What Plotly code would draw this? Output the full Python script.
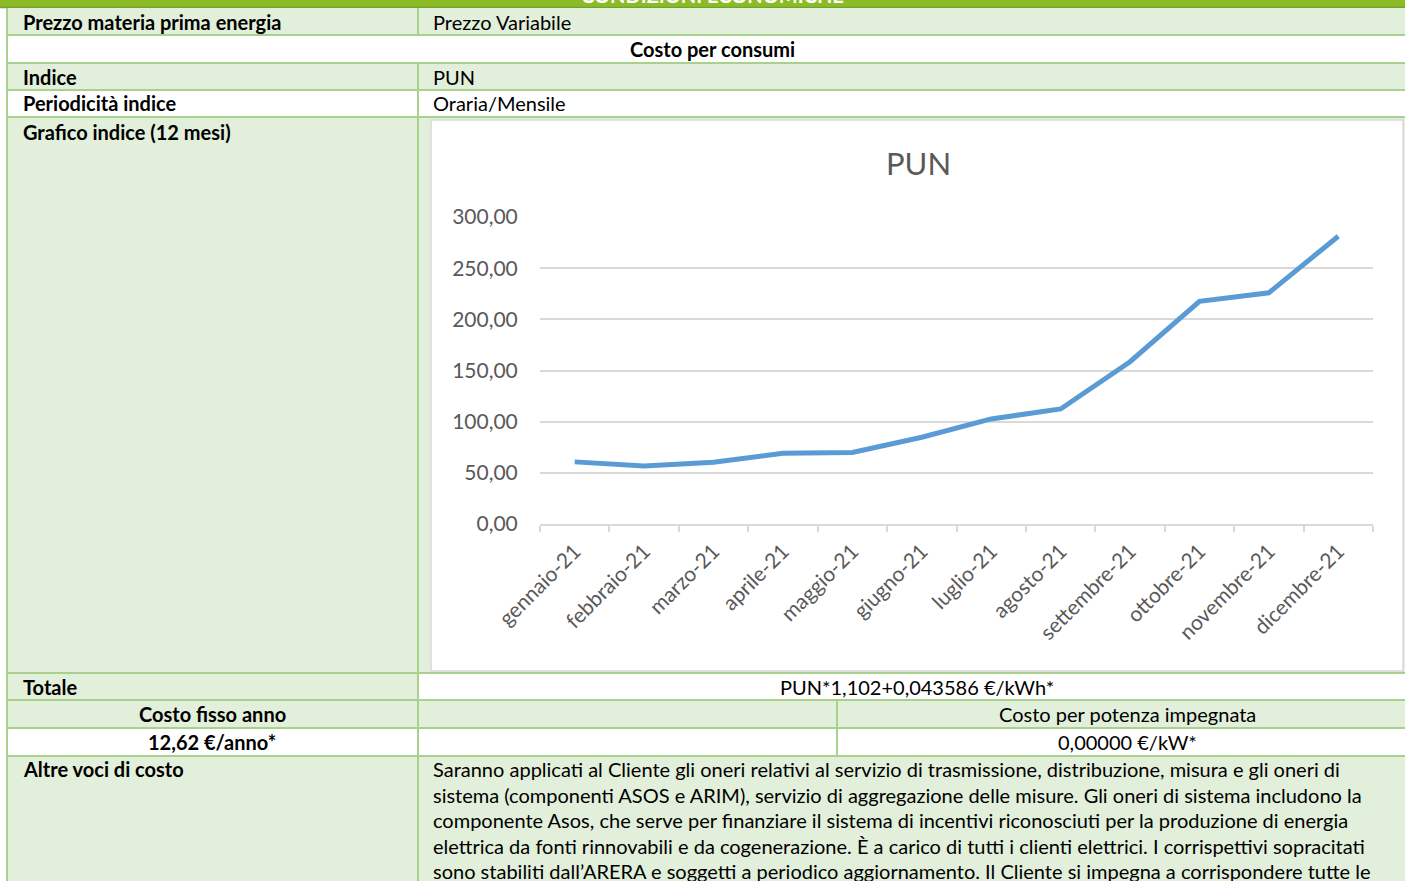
import plotly.graph_objects as go

W, H = 1405, 881

# ---- data ----
months = ["gennaio-21", "febbraio-21", "marzo-21", "aprile-21", "maggio-21", "giugno-21",
          "luglio-21", "agosto-21", "settembre-21", "ottobre-21", "novembre-21", "dicembre-21"]
pun_values = [60.71, 56.57, 60.42, 69.02, 69.91, 84.80, 102.65, 112.40, 158.59, 217.63, 225.95, 281.24]
y_ticks = [0, 50, 100, 150, 200, 250, 300]

header_title = "CONDIZIONI ECONOMICHE"
altre_voci_lines = [
    "Saranno applicati al Cliente gli oneri relativi al servizio di trasmissione, distribuzione, misura e gli oneri di",
    "sistema (componenti ASOS e ARIM), servizio di aggregazione delle misure. Gli oneri di sistema includono la",
    "componente Asos, che serve per finanziare il sistema di incentivi riconosciuti per la produzione di energia",
    "elettrica da fonti rinnovabili e da cogenerazione. È a carico di tutti i clienti elettrici. I corrispettivi sopracitati",
    "sono stabiliti dall’ARERA e soggetti a periodico aggiornamento. Il Cliente si impegna a corrispondere tutte le",
]

# ---- style ----
FONT = "Lato"
FS = 20
GREEN_BAR = "#8DBB25"
GREEN_BAR_DARK = "#6FA52E"
LIGHT = "#E2EFDA"
BORDER = "#A9D18E"
WHITE = "#FFFFFF"
GRID = "#D9D9D9"
AXTXT = "#595959"
LINE = "#5B9BD5"


def px(x):
    return x / W


def py(y):
    return 1 - y / H


shapes = []
annotations = []


def rect(x0, y0, x1, y1, fill, line_color=None, lw=0):
    shapes.append(dict(type="rect", xref="paper", yref="paper", x0=px(x0), x1=px(x1),
                       y0=py(y1), y1=py(y0), fillcolor=fill,
                       line=dict(color=line_color or fill, width=lw), layer="below"))


def hline(y, x0, x1, color=BORDER, w=2):
    shapes.append(dict(type="line", xref="paper", yref="paper", x0=px(x0), x1=px(x1),
                       y0=py(y), y1=py(y), line=dict(color=color, width=w), layer="below"))


def vline(x, y0, y1, color=BORDER, w=2):
    shapes.append(dict(type="line", xref="paper", yref="paper", x0=px(x), x1=px(x),
                       y0=py(y0), y1=py(y1), line=dict(color=color, width=w), layer="below"))


def text(x, y, s, bold=False, anchor="left", size=FS, color="black", yanchor="middle"):
    annotations.append(dict(xref="paper", yref="paper", x=px(x), y=py(y), text=("<b>%s</b>" % s) if bold else s,
                            showarrow=False, xanchor=anchor, yanchor=yanchor,
                            font=dict(family=FONT, size=size, color=color)))


L, C, M, R = 7, 418, 837, W
rows = [8, 35, 63, 90, 117, 673, 700, 728, 756, H]
XL, XR = 21, 431

# header bar
rect(0, 0, W, 8, GREEN_BAR)
hline(7.5, 0, W, GREEN_BAR_DARK, 1.5)

# cell backgrounds
rect(L, 8, R, 35, LIGHT)
rect(L, 35, R, 63, WHITE)
rect(L, 63, R, 90, LIGHT)
rect(L, 90, R, 117, WHITE)
rect(L, 117, R, 673, LIGHT)
rect(L, 673, C, 700, LIGHT)
rect(C, 673, R, 700, WHITE)
rect(L, 700, R, 728, LIGHT)
rect(L, 728, R, 756, WHITE)
rect(L, 756, R, H, LIGHT)

# chart area
rect(431, 120, 1403, 671, WHITE, GRID, 1.5)

# borders
for y in rows[1:-1]:
    hline(y, L, R)
vline(L, 8, H)
vline(C, 8, 35)
vline(C, 63, H)
vline(M, 700, 756)

# texts
annotations.append(dict(xref="paper", yref="paper", x=px(712), y=py(8.5), text="<b>%s</b>" % header_title,
                        showarrow=False, xanchor="center", yanchor="bottom",
                        font=dict(family=FONT, size=FS, color="white")))
text(XL, 21.5, "Prezzo materia prima energia", bold=True)
text(XR, 21.5, "Prezzo Variabile")
text(712, 49, "Costo per consumi", bold=True, anchor="center")
text(XL, 76.5, "Indice", bold=True)
text(XR, 76.5, "PUN")
text(XL, 103.5, "Periodicità indice", bold=True)
text(XR, 103.5, "Oraria/Mensile")
text(XL, 132, "Grafico indice (12 mesi)", bold=True)
text(XL, 686.5, "Totale", bold=True)
text(917, 686.5, "PUN*1,102+0,043586 €/kWh*", anchor="center")
text(212, 714, "Costo fisso anno", bold=True, anchor="center")
text(1127, 714, "Costo per potenza impegnata", anchor="center")
text(212, 742, "12,62 €/anno*", bold=True, anchor="center")
text(1127, 742, "0,00000 €/kW*", anchor="center")
text(XL, 769, "Altre voci di costo", bold=True)
for i, line in enumerate(altre_voci_lines):
    text(XR, 769 + i * 25.6, line)

# chart title
text(918, 163, "PUN", anchor="center", size=31, color=AXTXT)

fig = go.Figure()
fig.add_trace(go.Scatter(x=months, y=pun_values, mode="lines",
                         line=dict(color=LINE, width=5), hoverinfo="x+y", showlegend=False))

y_top = 300.8
fig.update_layout(
    width=W, height=H, autosize=False,
    margin=dict(l=0, r=0, t=0, b=0, pad=0, autoexpand=False),
    paper_bgcolor="white", plot_bgcolor="rgba(0,0,0,0)",
    separators=",.",
    shapes=shapes, annotations=annotations, showlegend=False,
    xaxis=dict(domain=[px(540), px(1373)], type="category", categoryorder="array", categoryarray=months,
               range=[-0.5, 11.5], showgrid=False, showline=True, linecolor=GRID, linewidth=1.5,
               ticks="outside", tickson="boundaries", ticklen=6, tickcolor=GRID, tickwidth=1.5,
               tickangle=-45, ticklabelstandoff=5, automargin=False,
               tickfont=dict(family=FONT, size=21, color=AXTXT), zeroline=False, fixedrange=True),
    yaxis=dict(domain=[py(524), py(524 - 307 * y_top / 300)], range=[0, y_top], tickvals=y_ticks,
               tickformat=".2f", automargin=False,
               showgrid=True, gridcolor=GRID, gridwidth=1.5, zeroline=False, showline=False,
               ticks="outside", ticklen=17, tickcolor="rgba(0,0,0,0)",
               tickfont=dict(family=FONT, size=21, color=AXTXT), fixedrange=True),
)

fig.write_html("out.html", config={"displayModeBar": False},
               post_script="document.body.style.margin='0';document.body.style.overflow='hidden';")
